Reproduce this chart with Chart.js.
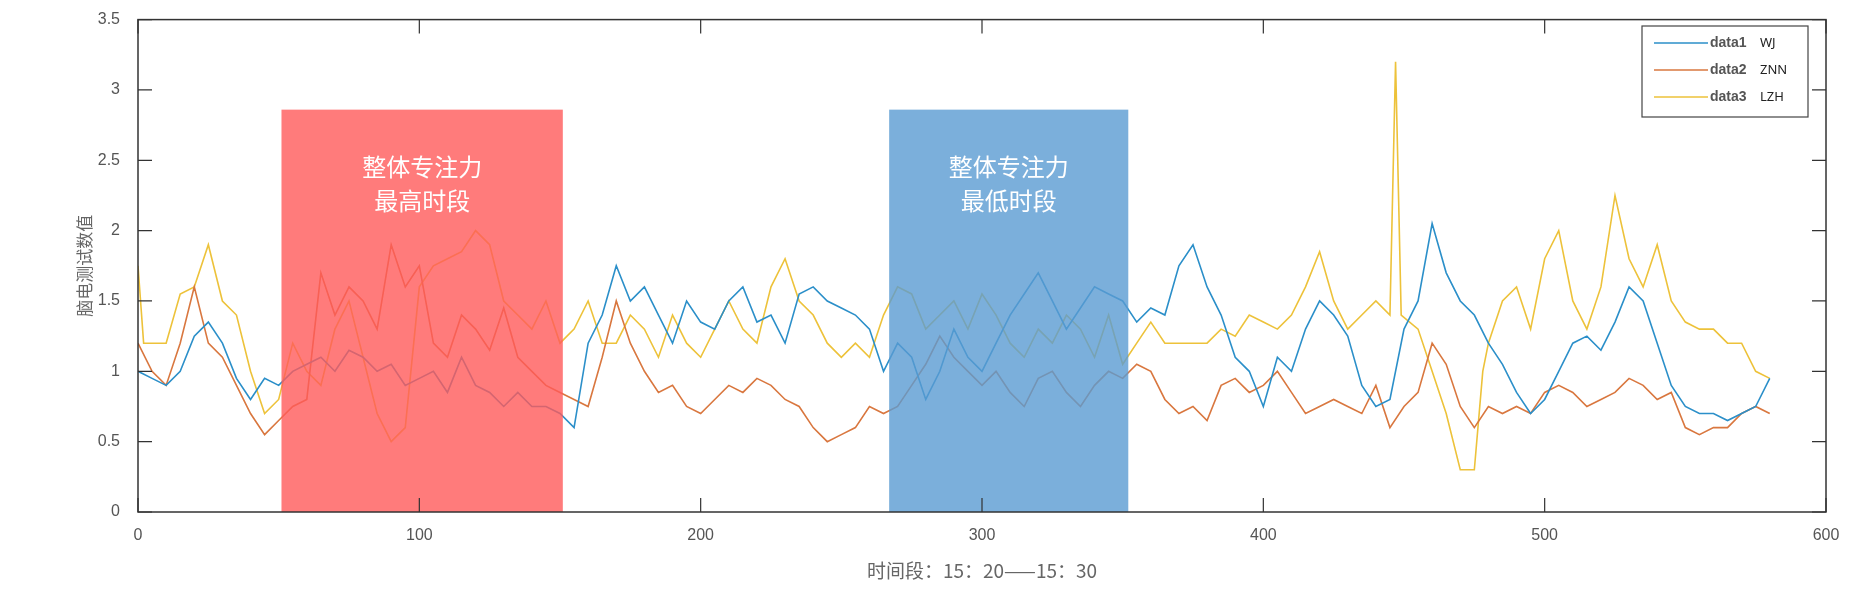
<!DOCTYPE html>
<html><head><meta charset="utf-8">
<script src="https://cdn.jsdelivr.net/npm/chart.js@4"></script>
<style>html,body{margin:0;background:#fff}#w{width:1862px;height:612px}</style>
</head><body><div id="w"><canvas id="c"></canvas></div>
<script>
const xWJ=[0,5,10,15,20,25,30,35,40,45,50,55,60,65,70,75,80,85,90,95,100,105,110,115,120,125,130,135,140,145,150,155,160,165,170,175,180,185,190,195,200,205,210,215,220,225,230,235,240,245,250,255,260,265,270,275,280,285,290,295,300,305,310,315,320,325,330,335,340,345,350,355,360,365,370,375,380,385,390,395,400,405,410,415,420,425,430,435,440,445,450,455,460,465,470,475,480,485,490,495,500,505,510,515,520,525,530,535,540,545,550,555,560,565,570,575,580];
const yWJ=[1.0,0.95,0.9,1.0,1.25,1.35,1.2,0.95,0.8,0.95,0.9,1.0,1.05,1.1,1.0,1.15,1.1,1.0,1.05,0.9,0.95,1.0,0.85,1.1,0.9,0.85,0.75,0.85,0.75,0.75,0.7,0.6,1.2,1.4,1.75,1.5,1.6,1.4,1.2,1.5,1.35,1.3,1.5,1.6,1.35,1.4,1.2,1.55,1.6,1.5,1.45,1.4,1.3,1.0,1.2,1.1,0.8,1.0,1.3,1.1,1.0,1.2,1.4,1.55,1.7,1.5,1.3,1.45,1.6,1.55,1.5,1.35,1.45,1.4,1.75,1.9,1.6,1.4,1.1,1.0,0.75,1.1,1.0,1.3,1.5,1.4,1.25,0.9,0.75,0.8,1.3,1.5,2.05,1.7,1.5,1.4,1.2,1.05,0.85,0.7,0.8,1.0,1.2,1.25,1.15,1.35,1.6,1.5,1.2,0.9,0.75,0.7,0.7,0.65,0.7,0.75,0.95];
const xZNN=xWJ;
const yZNN=[1.2,1.0,0.9,1.2,1.6,1.2,1.1,0.9,0.7,0.55,0.65,0.75,0.8,1.7,1.4,1.6,1.5,1.3,1.9,1.6,1.75,1.2,1.1,1.4,1.3,1.15,1.45,1.1,1.0,0.9,0.85,0.8,0.75,1.1,1.5,1.2,1.0,0.85,0.9,0.75,0.7,0.8,0.9,0.85,0.95,0.9,0.8,0.75,0.6,0.5,0.55,0.6,0.75,0.7,0.75,0.9,1.05,1.25,1.1,1.0,0.9,1.0,0.85,0.75,0.95,1.0,0.85,0.75,0.9,1.0,0.95,1.05,1.0,0.8,0.7,0.75,0.65,0.9,0.95,0.85,0.9,1.0,0.85,0.7,0.75,0.8,0.75,0.7,0.9,0.6,0.75,0.85,1.2,1.05,0.75,0.6,0.75,0.7,0.75,0.7,0.85,0.9,0.85,0.75,0.8,0.85,0.95,0.9,0.8,0.85,0.6,0.55,0.6,0.6,0.7,0.75,0.7];
const xLZH=[0,2,5,10,15,20,25,30,35,40,45,50,55,60,65,70,75,80,85,90,95,100,105,110,115,120,125,130,135,140,145,150,155,160,165,170,175,180,185,190,195,200,205,210,215,220,225,230,235,240,245,250,255,260,265,270,275,280,285,290,295,300,305,310,315,320,325,330,335,340,345,350,355,360,365,370,375,380,385,390,395,400,405,410,415,420,425,430,435,440,445,447,449,455,460,465,470,475,478,480,485,490,495,500,505,510,515,520,525,530,535,540,545,550,555,560,565,570,575,580];
const yLZH=[1.75,1.2,1.2,1.2,1.55,1.6,1.9,1.5,1.4,1.0,0.7,0.8,1.2,1.0,0.9,1.3,1.5,1.1,0.7,0.5,0.6,1.6,1.75,1.8,1.85,2.0,1.9,1.5,1.4,1.3,1.5,1.2,1.3,1.5,1.2,1.2,1.4,1.3,1.1,1.4,1.2,1.1,1.3,1.5,1.3,1.2,1.6,1.8,1.5,1.4,1.2,1.1,1.2,1.1,1.4,1.6,1.55,1.3,1.4,1.5,1.3,1.55,1.4,1.2,1.1,1.3,1.2,1.4,1.3,1.1,1.4,1.05,1.2,1.35,1.2,1.2,1.2,1.2,1.3,1.25,1.4,1.35,1.3,1.4,1.6,1.85,1.5,1.3,1.4,1.5,1.4,3.2,1.4,1.3,1.0,0.7,0.3,0.3,1.0,1.2,1.5,1.6,1.3,1.8,2.0,1.5,1.3,1.6,2.25,1.8,1.6,1.9,1.5,1.35,1.3,1.3,1.2,1.2,1.0,0.95];
const seriesNames=['data1','data2','data3'];
const seriesTags=['WJ','ZNN','LZH'];
const yTicks=[0,0.5,1,1.5,2,2.5,3,3.5];
const xTicks=[0,100,200,300,400,500,600];
const boxRanges=[[51,151],[267,352]];
const boxTop=2.86;
const boxTexts=[['整体专注力','最高时段'],['整体专注力','最低时段']];
const colors=['#2b8fc9','#d9773f','#edc23a'];
const boxColors=['rgba(255,90,90,0.8)','rgba(90,155,210,0.8)'];
const pts=(xs,ys)=>xs.map((x,i)=>({x,y:ys[i]}));
const overlay={id:'ov',afterDatasetsDraw(ch){
  const {ctx,scales:{x,y},chartArea:a}=ch;ctx.save();
  boxRanges.forEach((r,i)=>{const l=x.getPixelForValue(r[0]),R=x.getPixelForValue(r[1]),t=y.getPixelForValue(boxTop),b=y.getPixelForValue(0);
    ctx.fillStyle=boxColors[i];ctx.fillRect(l,t,R-l,b-t);
    ctx.fillStyle='#fff';ctx.font='24px "Noto Sans CJK SC"';ctx.textAlign='center';ctx.textBaseline='middle';
    ctx.fillText(boxTexts[i][0],(l+R)/2,t+57);ctx.fillText(boxTexts[i][1],(l+R)/2,t+91);});
  ctx.strokeStyle='#333';ctx.lineWidth=1.5;ctx.strokeRect(a.left,a.top,a.right-a.left,a.bottom-a.top);
  ctx.lineWidth=1.2;
  yTicks.forEach(v=>{const p=y.getPixelForValue(v);ctx.beginPath();ctx.moveTo(a.left,p);ctx.lineTo(a.left+14,p);ctx.moveTo(a.right,p);ctx.lineTo(a.right-14,p);ctx.stroke();});
  xTicks.forEach(v=>{const p=x.getPixelForValue(v);ctx.beginPath();ctx.moveTo(p,a.bottom);ctx.lineTo(p,a.bottom-14);ctx.moveTo(p,a.top);ctx.lineTo(p,a.top+14);ctx.stroke();});
  const lx=1642,ly=26,lw=166,lh=91;
  ctx.fillStyle='#fff';ctx.fillRect(lx,ly,lw,lh);ctx.strokeStyle='#444';ctx.strokeRect(lx,ly,lw,lh);
  ctx.textAlign='left';ctx.textBaseline='middle';
  seriesNames.forEach((n,i)=>{const yy=ly+17+i*27;ctx.strokeStyle=colors[i];ctx.lineWidth=1.5;ctx.beginPath();ctx.moveTo(lx+12,yy);ctx.lineTo(lx+66,yy);ctx.stroke();
    ctx.fillStyle='#555';ctx.font='bold 14px "Liberation Sans"';ctx.fillText(n,lx+68,yy);ctx.fillStyle='#222';ctx.font='13px "Noto Sans"';ctx.fillText(seriesTags[i],lx+118,yy);});
  ctx.restore();}};
new Chart(document.getElementById('c'),{type:'line',
 data:{datasets:[pts(xWJ,yWJ),pts(xZNN,yZNN),pts(xLZH,yLZH)].map((d,i)=>({label:seriesNames[i]+' '+seriesTags[i],data:d,borderColor:colors[i],borderWidth:1.6,pointRadius:0,tension:0}))},
 options:{responsive:true,maintainAspectRatio:false,animation:false,
  layout:{padding:{top:10,right:36,left:70,bottom:26}},
  plugins:{legend:{display:false},tooltip:{enabled:false}},
  scales:{
   x:{type:'linear',min:0,max:600,grid:{display:false},border:{display:false},
      afterBuildTicks(s){s.ticks=xTicks.map(v=>({value:v}));},
      afterFit(s){s.height=74;},
      ticks:{color:'#555',font:{size:16,family:'Liberation Sans'},padding:6,callback:v=>String(v)},
      title:{display:true,text:'时间段：15：20——15：30',color:'#666',font:{size:19,family:'Noto Sans CJK SC'},padding:{top:6}}},
   y:{min:0,max:3.5,grid:{display:false},border:{display:false},
      afterBuildTicks(s){s.ticks=yTicks.map(v=>({value:v}));},
      afterFit(s){s.width=68;},
      ticks:{color:'#555',font:{size:16,family:'Liberation Sans'},padding:10,callback:v=>String(v)},
      title:{display:true,text:'脑电测试数值',color:'#666',font:{size:17,family:'Noto Sans CJK SC'},padding:{bottom:6}}}}},
 plugins:[overlay]});
</script></body></html>
